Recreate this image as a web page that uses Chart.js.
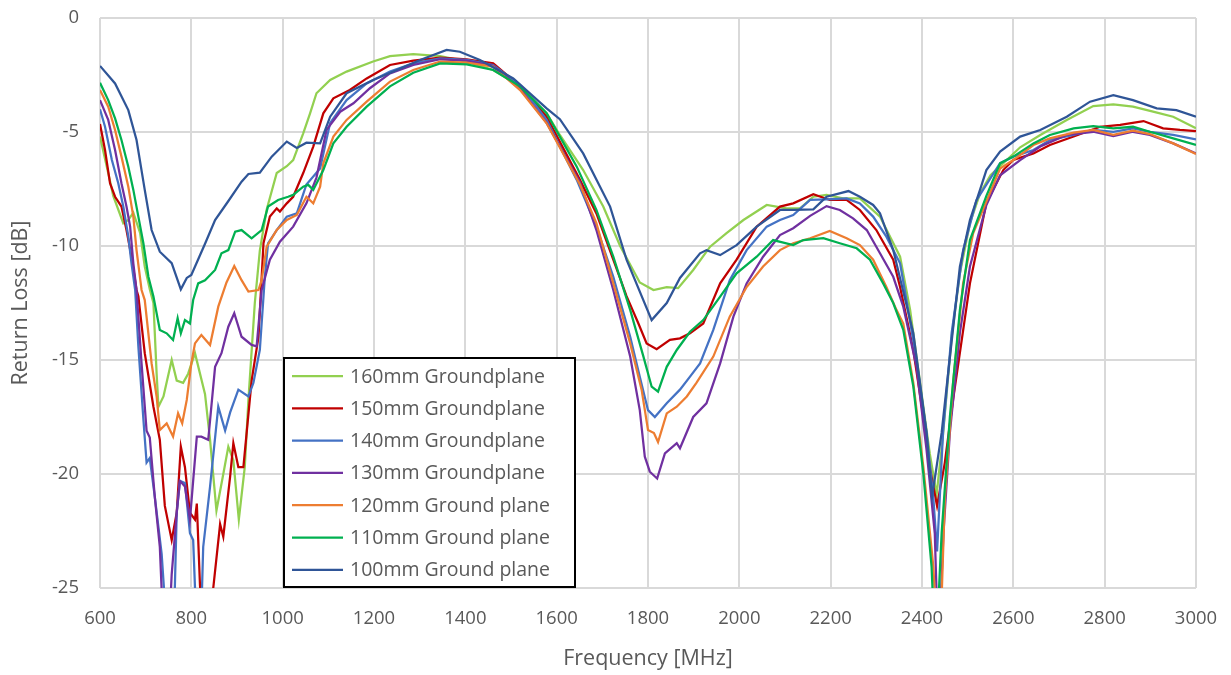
<!DOCTYPE html>
<html lang="en">
  <head>
    <meta charset="UTF-8" />
    <title>Return Loss vs Groundplane</title>
    <script src="https://cdn.jsdelivr.net/npm/chart.js"></script>
    <style>
      body { margin: 0; background: #ffffff; overflow: hidden; }
      canvas { display: block; }
    </style>
  </head>
  <body>
    <canvas id="rlChart" width="1231" height="675"></canvas>

    <script>
      // --- data (frequency in MHz, return loss in dB) ---
      const labels = [
        "160mm Groundplane",
        "150mm Groundplane",
        "140mm Groundplane",
        "130mm Groundplane",
        "120mm Ground plane",
        "110mm Ground plane",
        "100mm Ground plane",
      ];
      const colors = ["#92d050", "#c00000", "#4472c4", "#7030a0", "#ed7d31", "#00b050", "#2f5597"];

      const xTicks = [600, 800, 1000, 1200, 1400, 1600, 1800, 2000, 2200, 2400, 2600, 2800, 3000];
      const yTicks = [0, -5, -10, -15, -20, -25];

      const f160 = [600, 618, 629, 651, 662, 673, 688, 698, 709, 717, 724, 728, 739, 757, 768, 782, 793, 808, 830, 841, 855, 870, 881, 892, 904, 917, 925, 939, 950, 965, 987, 1009, 1023, 1045, 1060, 1074, 1104, 1140, 1198, 1235, 1286, 1345, 1403, 1461, 1520, 1578, 1607, 1658, 1702, 1739, 1782, 1812, 1841, 1866, 1899, 1936, 1972, 2009, 2060, 2103, 2133, 2162, 2191, 2227, 2264, 2308, 2352, 2374, 2399, 2417, 2432, 2445, 2465, 2483, 2505, 2527, 2550, 2571, 2615, 2659, 2717, 2775, 2819, 2862, 2906, 2950, 3000];
      const rl160 = [-5.2, -6.8, -7.8, -9.0, -8.86, -8.54, -9.44, -10.9, -11.9, -12.5, -15.6, -17.05, -16.6, -15.0, -15.9, -16.0, -15.6, -14.7, -16.5, -18.5, -21.6, -20.0, -18.8, -19.4, -22.0, -19.7, -16.75, -12.5, -10.2, -8.4, -6.8, -6.5, -6.23, -5.06, -4.18, -3.3, -2.72, -2.35, -1.91, -1.67, -1.59, -1.67, -1.91, -2.28, -3.0, -4.18, -5.13, -6.67, -8.27, -10.0, -11.6, -11.93, -11.8, -11.85, -11.05, -10.03, -9.44, -8.86, -8.2, -8.35, -8.35, -7.84, -7.76, -7.91, -7.91, -8.71, -10.47, -12.8, -16.46, -19.1, -20.9, -18.5, -14.0, -11.2, -9.0, -7.7, -6.9, -6.5, -5.67, -5.13, -4.47, -3.86, -3.79, -3.89, -4.11, -4.33, -4.84];

      const f150 = [600, 611, 622, 633, 647, 658, 669, 680, 684, 698, 717, 731, 742, 757, 768, 777, 786, 797, 808, 812, 819, 826, 840, 848, 863, 870, 885, 892, 903, 914, 932, 947, 958, 972, 987, 994, 1009, 1023, 1045, 1067, 1089, 1111, 1147, 1184, 1235, 1286, 1345, 1403, 1461, 1520, 1578, 1651, 1687, 1724, 1753, 1779, 1797, 1819, 1848, 1870, 1892, 1921, 1958, 1994, 2038, 2089, 2118, 2162, 2198, 2235, 2264, 2300, 2337, 2352, 2381, 2403, 2417, 2433, 2450, 2468, 2505, 2541, 2578, 2600, 2644, 2680, 2732, 2790, 2834, 2885, 2928, 2965, 3000];
      const rl150 = [-4.65, -5.79, -7.25, -7.84, -8.27, -9.3, -10.47, -11.93, -12.2, -14.7, -17.05, -18.5, -21.4, -22.9, -21.7, -18.8, -19.7, -21.7, -22.0, -21.3, -24.9, -26.5, -26.5, -25.0, -22.2, -22.75, -20.1, -18.65, -19.7, -19.7, -15.9, -14.0, -9.88, -8.71, -8.35, -8.49, -8.13, -7.84, -6.8, -5.64, -4.18, -3.52, -3.16, -2.65, -2.06, -1.87, -1.74, -1.81, -1.99, -3.0, -4.33, -7.1, -8.57, -10.6, -12.2, -13.4, -14.27, -14.53, -14.12, -14.05, -13.83, -13.4, -11.64, -10.6, -9.15, -8.27, -8.13, -7.73, -7.98, -7.98, -8.42, -9.3, -10.6, -11.8, -14.56, -17.5, -19.7, -21.4, -19.5, -16.75, -11.64, -8.1, -6.67, -6.23, -5.94, -5.57, -5.2, -4.77, -4.69, -4.52, -4.84, -4.91, -4.96];

      const f140 = [600, 611, 626, 640, 651, 662, 669, 677, 684, 695, 702, 709, 720, 735, 745, 762, 768, 775, 786, 797, 804, 810, 822, 826, 841, 859, 874, 885, 903, 925, 936, 950, 961, 968, 987, 1009, 1031, 1052, 1082, 1104, 1140, 1184, 1235, 1286, 1345, 1403, 1461, 1520, 1578, 1644, 1687, 1724, 1761, 1782, 1800, 1815, 1841, 1870, 1892, 1914, 1943, 1979, 2016, 2060, 2089, 2118, 2155, 2191, 2235, 2264, 2293, 2322, 2352, 2366, 2388, 2410, 2425, 2433, 2446, 2465, 2490, 2519, 2571, 2600, 2644, 2680, 2732, 2775, 2819, 2862, 2899, 2950, 3000];
      const rl140 = [-4.0, -4.77, -6.23, -7.25, -8.27, -9.59, -10.76, -11.93, -14.4, -17.6, -19.5, -19.3, -21.0, -23.5, -26.5, -26.5, -21.7, -20.3, -20.4, -22.6, -22.9, -26.0, -26.0, -23.2, -20.55, -17.05, -18.1, -17.3, -16.3, -16.6, -16.0, -14.56, -11.35, -9.88, -9.3, -8.71, -8.57, -7.3, -6.6, -4.6, -3.6, -2.87, -2.35, -1.99, -1.77, -1.84, -2.06, -2.94, -4.47, -7.1, -9.15, -11.35, -13.98, -15.73, -17.2, -17.5, -16.9, -16.3, -15.73, -15.15, -13.68, -11.5, -10.18, -9.15, -8.86, -8.64, -7.98, -7.95, -7.91, -8.13, -8.71, -9.59, -10.76, -12.37, -15.0, -18.2, -21.1, -23.4, -18.2, -13.8, -10.2, -8.0, -6.37, -6.08, -5.79, -5.35, -5.13, -4.91, -4.99, -4.84, -4.99, -5.13, -5.32];

      const f130 = [600, 618, 633, 647, 658, 666, 673, 680, 691, 702, 709, 720, 731, 738, 752, 757, 768, 775, 786, 797, 804, 812, 822, 837, 852, 866, 881, 894, 910, 932, 943, 954, 972, 994, 1023, 1052, 1074, 1096, 1126, 1155, 1191, 1235, 1286, 1345, 1403, 1461, 1520, 1578, 1651, 1687, 1724, 1761, 1782, 1793, 1804, 1820, 1837, 1863, 1870, 1899, 1928, 1958, 1987, 2016, 2052, 2089, 2118, 2155, 2191, 2220, 2249, 2279, 2308, 2337, 2359, 2388, 2410, 2428, 2433, 2440, 2447, 2461, 2483, 2505, 2541, 2571, 2615, 2659, 2717, 2775, 2819, 2862, 2899, 2950, 3000];
      const rl130 = [-3.6, -4.47, -5.79, -7.25, -8.27, -9.15, -10.76, -11.93, -15.15, -18.1, -18.4, -21.0, -23.2, -26.5, -26.5, -24.4, -21.7, -20.3, -20.55, -22.0, -20.3, -18.36, -18.36, -18.5, -15.3, -14.7, -13.54, -12.95, -13.98, -14.34, -14.4, -11.93, -10.6, -9.81, -9.15, -8.13, -7.0, -4.91, -4.11, -3.74, -3.08, -2.43, -2.06, -1.81, -1.87, -2.1, -3.1, -4.6, -7.2, -9.3, -11.93, -14.85, -17.2, -19.24, -19.9, -20.2, -19.1, -18.65, -18.87, -17.5, -16.9, -15.15, -13.1, -11.64, -10.47, -9.52, -9.22, -8.68, -8.25, -8.42, -8.79, -9.3, -10.32, -11.35, -12.66, -15.3, -18.95, -22.6, -26.0, -26.0, -22.6, -18.2, -13.8, -10.9, -8.2, -6.9, -6.23, -5.64, -5.13, -4.99, -5.18, -4.99, -5.13, -5.5, -5.94];

      const f120 = [600, 618, 633, 647, 662, 673, 680, 691, 698, 713, 724, 731, 746, 760, 771, 780, 790, 800, 808, 822, 841, 859, 877, 894, 910, 925, 947, 954, 965, 987, 1009, 1031, 1052, 1067, 1082, 1089, 1111, 1140, 1184, 1235, 1286, 1345, 1403, 1461, 1520, 1578, 1651, 1687, 1724, 1761, 1786, 1800, 1813, 1822, 1841, 1863, 1885, 1906, 1943, 1979, 2016, 2052, 2089, 2118, 2155, 2198, 2235, 2264, 2293, 2322, 2344, 2359, 2381, 2403, 2425, 2430, 2442, 2450, 2468, 2490, 2512, 2571, 2600, 2644, 2680, 2732, 2775, 2819, 2862, 2899, 2950, 3000];
      const rl120 = [-3.16, -3.89, -4.91, -6.08, -7.4, -8.71, -10.18, -11.93, -12.37, -15.15, -16.6, -18.07, -17.78, -18.36, -17.34, -17.78, -16.75, -15.15, -14.27, -13.9, -14.34, -12.66, -11.6, -10.88, -11.5, -12.0, -11.93, -11.5, -10.03, -9.3, -8.86, -8.64, -7.84, -8.13, -7.4, -6.37, -5.2, -4.47, -3.67, -2.79, -2.28, -1.91, -1.96, -2.13, -3.16, -4.62, -7.3, -9.0, -11.64, -14.27, -16.3, -18.07, -18.2, -18.6, -17.34, -17.05, -16.6, -16.0, -14.85, -13.1, -11.8, -10.9, -10.18, -9.88, -9.66, -9.34, -9.66, -9.96, -10.6, -11.8, -12.8, -13.4, -16.0, -19.7, -24.1, -26.0, -26.0, -21.1, -16.0, -11.64, -9.44, -6.6, -6.23, -5.57, -5.28, -5.03, -4.91, -5.13, -4.94, -5.09, -5.5, -5.96];

      const f110 = [600, 618, 633, 647, 662, 673, 684, 695, 706, 717, 731, 746, 760, 770, 777, 786, 797, 804, 815, 830, 852, 866, 881, 896, 910, 932, 954, 968, 990, 1012, 1023, 1045, 1056, 1067, 1089, 1111, 1140, 1184, 1235, 1286, 1345, 1403, 1461, 1520, 1578, 1644, 1687, 1724, 1761, 1790, 1808, 1822, 1841, 1863, 1892, 1921, 1958, 1994, 2038, 2074, 2118, 2140, 2184, 2220, 2257, 2286, 2315, 2337, 2359, 2381, 2403, 2421, 2425, 2435, 2443, 2461, 2483, 2505, 2541, 2571, 2600, 2644, 2680, 2732, 2775, 2819, 2862, 2899, 2950, 3000];
      const rl110 = [-2.84, -3.6, -4.4, -5.35, -6.52, -7.54, -8.71, -9.88, -11.35, -12.22, -13.68, -13.83, -14.12, -13.17, -13.83, -13.25, -13.4, -12.37, -11.64, -11.5, -11.05, -10.32, -10.18, -9.37, -9.3, -9.66, -9.3, -8.27, -7.98, -7.84, -7.76, -7.4, -7.32, -7.54, -6.67, -5.5, -4.77, -3.89, -3.0, -2.4, -1.99, -2.03, -2.28, -3.0, -4.18, -6.52, -8.42, -10.47, -12.8, -14.85, -16.17, -16.39, -15.3, -14.56, -13.76, -13.25, -12.22, -11.2, -10.47, -9.74, -9.96, -9.74, -9.66, -9.88, -10.1, -10.6, -11.64, -12.5, -13.68, -16.17, -20.0, -24.07, -26.0, -26.0, -22.6, -17.5, -12.8, -9.74, -7.8, -6.37, -6.08, -5.5, -5.13, -4.84, -4.74, -4.84, -4.77, -4.99, -5.28, -5.57];

      const f100 = [600, 633, 662, 680, 698, 713, 731, 757, 777, 790, 800, 830, 852, 880, 910, 925, 950, 976, 1009, 1031, 1052, 1082, 1104, 1140, 1198, 1250, 1301, 1359, 1388, 1432, 1505, 1578, 1607, 1658, 1717, 1753, 1780, 1808, 1841, 1870, 1914, 1928, 1958, 1994, 2038, 2089, 2118, 2162, 2191, 2239, 2264, 2293, 2308, 2337, 2381, 2410, 2422, 2443, 2454, 2483, 2505, 2527, 2541, 2571, 2615, 2659, 2717, 2768, 2819, 2862, 2914, 2957, 3000];
      const rl100 = [-2.1, -2.87, -4.04, -5.35, -7.54, -9.3, -10.25, -10.75, -11.9, -11.4, -11.27, -9.9, -8.86, -8.06, -7.18, -6.84, -6.78, -6.08, -5.42, -5.7, -5.47, -5.5, -4.33, -3.3, -2.72, -2.28, -1.84, -1.4, -1.48, -1.84, -2.65, -3.96, -4.44, -5.94, -8.27, -10.6, -11.9, -13.25, -12.5, -11.4, -10.32, -10.18, -10.4, -9.96, -9.15, -8.42, -8.42, -8.39, -7.84, -7.59, -7.84, -8.2, -8.57, -10.18, -13.83, -18.2, -21.0, -18.2, -16.17, -10.9, -8.86, -7.54, -6.67, -5.86, -5.2, -4.91, -4.33, -3.67, -3.38, -3.6, -3.96, -4.04, -4.33];

      const freqs = [f160, f150, f140, f130, f120, f110, f100];
      const values = [rl160, rl150, rl140, rl130, rl120, rl110, rl100];

      const FONT = "'Open Sans', sans-serif";
      const GREY = "#595959";

      // legend box drawn inside the plot, over the lines (like the Excel one)
      const boxLegend = {
        id: "boxLegend",
        afterDatasetsDraw(chart) {
          const c = chart.ctx;
          const x0 = 284, y0 = 358, w = 291, h = 229;
          c.save();
          c.fillStyle = "#ffffff";
          c.fillRect(x0, y0, w, h);
          c.strokeStyle = "#000000";
          c.lineWidth = 2;
          c.strokeRect(x0, y0, w, h);
          c.font = "19.5px " + FONT;
          c.textBaseline = "middle";
          labels.forEach((lab, i) => {
            const y = y0 + 18 + i * 32.3;
            c.strokeStyle = colors[i];
            c.lineWidth = 2.25;
            c.beginPath();
            c.moveTo(x0 + 8, y);
            c.lineTo(x0 + 59, y);
            c.stroke();
            c.fillStyle = GREY;
            c.fillText(lab, x0 + 66, y + 1);
          });
          c.restore();
        },
      };

      const datasets = labels.map((lab, i) => ({
        label: lab,
        data: freqs[i].map((f, j) => ({ x: f, y: values[i][j] })),
        borderColor: colors[i],
        borderWidth: 2.25,
        pointRadius: 0,
        tension: 0,
        fill: false,
        order: labels.length - 1 - i, // last series on top, as in Excel
      }));

      new Chart(document.getElementById("rlChart"), {
        type: "line",
        data: { datasets: datasets },
        options: {
          responsive: false,
          animation: false,
          devicePixelRatio: 1,
          layout: { padding: { top: 18, right: 35, left: 0, bottom: 0 } },
          plugins: { legend: { display: false }, tooltip: { enabled: false } },
          scales: {
            x: {
              type: "linear",
              min: 600,
              max: 3000,
              afterBuildTicks: (s) => { s.ticks = xTicks.map((v) => ({ value: v })); },
              afterFit: (s) => {
                s.height = 87;
                s.paddingLeft = 0;
                s.paddingRight = 0;
              },
              grid: { color: "#d9d9d9", lineWidth: 2, drawTicks: false },
              border: { display: false },
              ticks: { color: GREY, font: { family: FONT, size: 18.5 }, padding: 20, maxRotation: 0, callback: (v) => String(v) },
              title: {
                display: true,
                text: "Frequency [MHz]",
                color: GREY,
                font: { family: FONT, size: 21.5 },
                padding: { top: 4, bottom: 3 },
              },
            },
            y: {
              type: "linear",
              min: -25,
              max: 0,
              afterBuildTicks: (s) => { s.ticks = yTicks.map((v) => ({ value: v })); },
              afterFit: (s) => {
                s.width = 100;
                s.paddingTop = 0;
                s.paddingBottom = 0;
              },
              grid: { color: "#d9d9d9", lineWidth: 2, drawTicks: false },
              border: { display: false },
              ticks: { color: GREY, font: { family: FONT, size: 18.5 }, padding: 21, callback: (v) => String(v) },
              title: {
                display: true,
                text: "Return Loss [dB]",
                color: GREY,
                font: { family: FONT, size: 21.5 },
                padding: { top: 8, bottom: 4 },
              },
            },
          },
        },
        plugins: [boxLegend],
      });
    </script>
  </body>
</html>
